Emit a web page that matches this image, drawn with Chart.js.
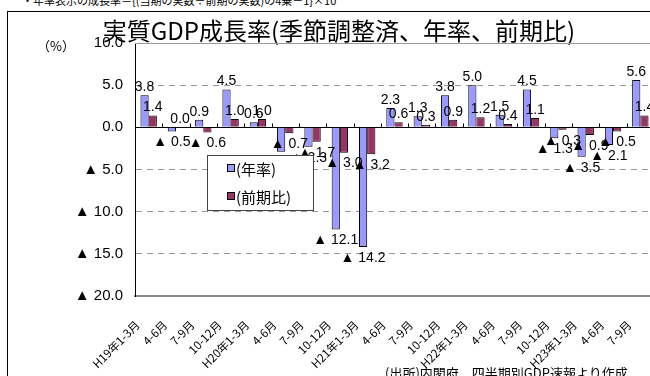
<!DOCTYPE html>
<html lang="ja">
<head>
<meta charset="utf-8">
<title>実質GDP成長率</title>
<script src="https://cdn.jsdelivr.net/npm/chart.js@4.4.1/dist/chart.umd.min.js"></script>
<style>
  html, body { margin: 0; padding: 0; background: #fff; overflow: hidden; }
  #page { position: relative; width: 650px; height: 376px; overflow: hidden; }
  #frame { position: absolute; left: 7px; top: 11px; width: 700px; height: 400px; border: 1px solid #000; }
  #box { position: absolute; left: 0; top: 0; width: 680px; height: 400px; }
  .note { position: absolute; white-space: nowrap; color: #000; font-family: "Noto Sans CJK JP", sans-serif; }
  #topnote { left: 22px; top: -8px; font-size: 11px; }
  #unit { left: 37px; top: 36px; font-size: 13px; }
  #source { left: 385px; top: 363px; font-size: 13px; }
</style>
</head>
<body>
<div id="page">
  <div class="note" id="topnote">・年率表示の成長率＝{(当期の実数÷前期の実数)の4乗－1}×10</div>
  <div id="frame"></div>
  <div id="box"><canvas id="gdp-chart"></canvas></div>
  <div class="note" id="unit">（%）</div>
  <div class="note" id="source">(出所)内閣府、四半期別GDP速報より作成</div>
</div>
<script>
// quarters H19 1-3 .. H23 7-9
const quarters = ["H19年1-3月","4-6月","7-9月","10-12月","H20年1-3月","4-6月","7-9月","10-12月",
                  "H21年1-3月","4-6月","7-9月","10-12月","H22年1-3月","4-6月","7-9月","10-12月",
                  "H23年1-3月","4-6月","7-9月"]
const annualRate = [3.8,-0.5,0.9,4.5,0.6,-2.9,-2.3,-12.1,-14.2,2.3,1.3,3.8,5.0,1.5,4.5,-1.3,-3.5,-2.1,5.6] // 年率
const qoqRate = [1.4,0.0,-0.6,1.0,1.0,-0.7,-1.7,-3.0,-3.2,0.6,0.3,0.9,1.2,0.4,1.1,-0.3,-0.9,-0.5,1.4]      // 前期比
const seriesNames = ["(年率)","(前期比)"]
const yMin = -20, yMax = 10, yStep = 5

// ▲ is used for minus numbers
const fmt = v => v < 0 ? "▲ " + Math.abs(v).toFixed(1) : v.toFixed(1)

const extras = {
  id: "extras",
  beforeDatasetsDraw(chart) {
    const {ctx, chartArea: a, scales: {x, y}} = chart
    ctx.save()
    ctx.lineWidth = 1
    ctx.strokeStyle = "#999"
    ctx.beginPath()
    ctx.moveTo(a.left, a.top + 0.5)
    ctx.lineTo(a.right, a.top + 0.5)
    ctx.stroke()
    // zero line + small category ticks on it
    const y0 = Math.round(y.getPixelForValue(0)) + 0.5
    const step = x.getPixelForTick(1) - x.getPixelForTick(0)
    ctx.strokeStyle = "#000"
    ctx.beginPath()
    ctx.moveTo(a.left, y0)
    ctx.lineTo(a.right, y0)
    for (let i = 1; i < quarters.length; i++) {
      const px = Math.round(x.getPixelForTick(i) - step / 2) + 0.5
      ctx.moveTo(px, y0)
      ctx.lineTo(px, y0 - 4)
    }
    ctx.stroke()
    ctx.restore()
  },
  afterDatasetsDraw(chart) {
    const ctx = chart.ctx
    ctx.save()
    ctx.font = "14px 'Liberation Sans'"
    ctx.fillStyle = "#000"
    ctx.textAlign = "center"
    chart.data.datasets.forEach((ds, di) => {
      chart.getDatasetMeta(di).data.forEach((bar, i) => {
        const v = ds.data[i]
        if (v < 0) {
          ctx.textBaseline = "top"
          ctx.fillText(fmt(v), bar.x, bar.y + 4)
        } else {
          ctx.textBaseline = "bottom"
          ctx.fillText(fmt(v), bar.x, bar.y - 1)
        }
      })
    })
    ctx.restore()
  },
  afterDraw(chart) {
    // legend box sitting inside the plot
    const {ctx, chartArea: a} = chart
    const lx = a.left + 72, ly = a.top + 112, lw = 106, lh = 55
    ctx.save()
    ctx.fillStyle = "#fff"
    ctx.fillRect(lx, ly, lw, lh)
    ctx.strokeStyle = "#444"
    ctx.lineWidth = 1
    ctx.strokeRect(lx + 0.5, ly + 0.5, lw, lh)
    ctx.font = "15px 'Noto Sans CJK JP'"
    ctx.textBaseline = "middle"
    ctx.textAlign = "left"
    chart.data.datasets.forEach((ds, i) => {
      const cy = ly + 13 + i * 28
      ctx.fillStyle = ds.backgroundColor
      ctx.fillRect(lx + 20, cy - 4, 8, 8)
      ctx.strokeStyle = "#000"
      ctx.strokeRect(lx + 20.5, cy - 3.5, 7, 7)
      ctx.fillStyle = "#000"
      ctx.fillText(ds.label, lx + 29, cy + 1)
    })
    ctx.restore()
  }
}

Chart.defaults.font.family = "'Liberation Sans'"
Chart.defaults.color = "#000"

new Chart("gdp-chart", {
  type: "bar",
  data: {
    labels: quarters,
    datasets: [
      {
        label: seriesNames[0],
        data: annualRate,
        backgroundColor: "#9999FF",
        borderColor: "#000",
        borderWidth: 1
      },
      {
        label: seriesNames[1],
        data: qoqRate,
        backgroundColor: "#993366",
        borderColor: "#000",
        borderWidth: 1
      }
    ]
  },
  options: {
    responsive: true,
    maintainAspectRatio: false,
    animation: false,
    categoryPercentage: 0.6,
    barPercentage: 1.0,
    layout: { padding: { left: 24, right: 26, top: 0, bottom: 0 } },
    plugins: {
      legend: { display: false },
      tooltip: { enabled: false },
      title: {
        display: true,
        text: "実質GDP成長率(季節調整済、年率、前期比)",
        font: { family: "'Noto Sans CJK JP'", size: 24, weight: "normal", lineHeight: 1 },
        color: "#000",
        padding: { top: 19, bottom: 0 }
      }
    },
    scales: {
      x: {
        grid: { display: false },
        border: { color: "#888", width: 2 },
        ticks: {
          autoSkip: false,
          minRotation: 45,
          maxRotation: 45,
          padding: 14,
          labelOffset: -11,
          font: { family: "'Noto Sans CJK JP'", size: 11.5 }
        },
        afterFit: s => { s.height = 104 }
      },
      y: {
        min: yMin,
        max: yMax,
        grid: {
          drawTicks: false,
          color: c => [0, yMax, yMin].includes(c.tick.value) ? "rgba(0,0,0,0)" : "#999"
        },
        border: { color: "#000", width: 1, dash: [6, 5] },
        ticks: {
          stepSize: yStep,
          padding: 12,
          font: { size: 15 },
          callback: v => fmt(v)
        },
        afterFit: s => { s.width = 111 }
      }
    }
  },
  plugins: [extras]
})
</script>
</body>
</html>
